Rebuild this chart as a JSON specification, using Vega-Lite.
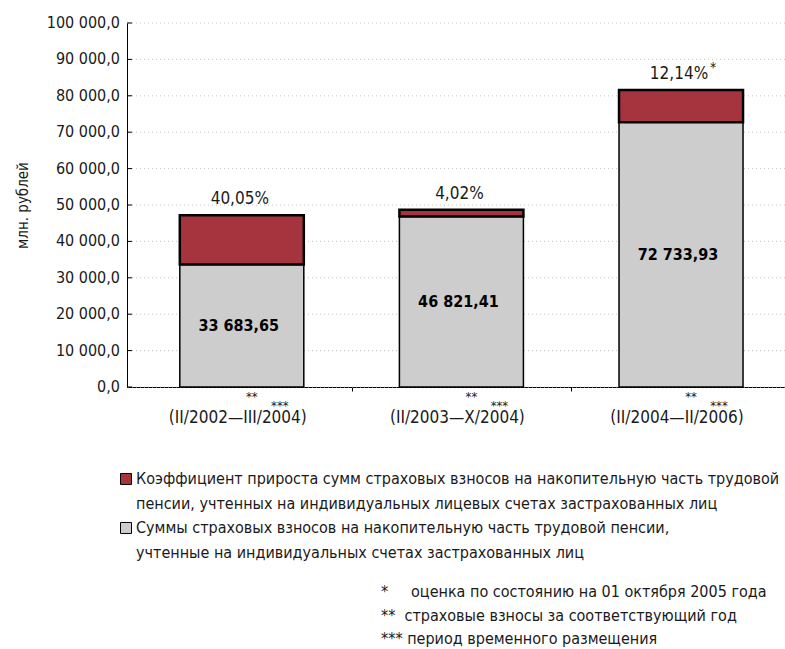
{
  "$schema": "https://vega.github.io/schema/vega-lite/v6.json",
  "width": 658,
  "height": 364,
  "autosize": "none",
  "padding": {"left": 127, "top": 23, "right": 0, "bottom": 262},
  "background": "white",
  "config": {
    "font": "DejaVu Sans Condensed, sans-serif",
    "locale": {"number": {"decimal": ",", "thousands": " ", "grouping": [3], "currency": ["", ""]}},
    "view": {"stroke": null},
    "style": {"guide-label": {"lineHeight": 25}}
  },
  "datasets": {
    "periods": [
      {"period": "(II/2002—III/2004)", "pos": 0.5, "base": 33683.65, "total": 47173.95, "pct": "40,05%", "note": ""},
      {"period": "(II/2003—X/2004)", "pos": 1.5, "base": 46821.41, "total": 48703.63, "pct": "4,02%", "note": ""},
      {"period": "(II/2004—II/2006)", "pos": 2.5, "base": 72733.93, "total": 81563.83, "pct": "12,14%", "note": "*"}
    ],
    "yticks": [
      {"v": 0}, {"v": 10000}, {"v": 20000}, {"v": 30000}, {"v": 40000}, {"v": 50000},
      {"v": 60000}, {"v": 70000}, {"v": 80000}, {"v": 90000}, {"v": 100000}
    ]
  },
  "data": {"name": "periods"},
  "title": {
    "text": [
      "*\u00a0\u00a0\u00a0\u00a0\u00a0оценка по состоянию на 01 октября 2005 года",
      "**\u00a0\u00a0страховые взносы за соответствующий год",
      "***\u00a0период временного размещения"
    ],
    "orient": "bottom",
    "anchor": "start",
    "frame": "group",
    "offset": 23,
    "dx": 254,
    "fontSize": 16,
    "fontWeight": "normal",
    "lineHeight": 23.5,
    "align": "left",
    "color": "#1a1a1a"
  },
  "resolve": {"scale": {"y": "independent"}},
  "layer": [
    {
      "layer": [
        {
          "data": {"name": "yticks"},
          "mark": {"type": "rule", "color": "#c4c4c4", "strokeDash": [1, 3], "strokeWidth": 1},
          "encoding": {
            "y": {
              "field": "v", "type": "quantitative",
              "scale": {"domain": [0, 100000], "nice": false},
              "axis": {
                "ticks": false, "labels": false, "grid": false, "domainColor": "#000",
                "title": "млн. рублей", "titleFontSize": 15, "titleFontWeight": "normal",
                "titleColor": "#1a1a1a", "titleX": -105, "titleY": 182,
                "titleAlign": "center", "titleBaseline": "middle", "titleAngle": -90
              }
            }
          }
        },
        {
          "data": {"name": "yticks"},
          "mark": {"type": "rule", "color": "#000", "strokeWidth": 1},
          "encoding": {
            "x": {"datum": 0},
            "x2": {"datum": -0.0224},
            "y": {"field": "v", "type": "quantitative"}
          }
        },
        {
          "data": {"name": "yticks"},
          "mark": {"type": "text", "fontSize": 16, "color": "#1a1a1a", "align": "right", "baseline": "middle", "dx": -12},
          "encoding": {
            "x": {"datum": 0},
            "y": {"field": "v", "type": "quantitative"},
            "text": {"field": "v", "type": "quantitative", "format": ",.1f"}
          }
        },
        {
          "mark": {"type": "bar", "width": 124, "stroke": "#000", "strokeWidth": 1.5},
          "encoding": {
            "x": {
              "field": "pos", "type": "quantitative",
              "scale": {"domain": [0, 2.9507], "nice": false, "zero": false},
              "axis": {"values": [1, 2], "labels": false, "tickSize": 4, "tickColor": "#000", "domainColor": "#000", "grid": false, "title": null}
            },
            "y": {"field": "base", "type": "quantitative", "stack": null},
            "color": {
              "datum": "Суммы страховых взносов на накопительную часть трудовой пенсии,\nучтенные на индивидуальных счетах застрахованных лиц",
              "scale": {
                "domain": [
                  "Коэффициент прироста сумм страховых взносов на накопительную часть трудовой\nпенсии, учтенных на индивидуальных лицевых счетах застрахованных лиц",
                  "Суммы страховых взносов на накопительную часть трудовой пенсии,\nучтенные на индивидуальных счетах застрахованных лиц"
                ],
                "range": ["#A6343E", "#CDCDCD"]
              },
              "legend": {
                "orient": "none", "legendX": -9, "legendY": 440, "title": null,
                "symbolType": "M-1,0.45H1V2.45H-1Z", "symbolSize": 121, "symbolStrokeColor": "#000", "symbolStrokeWidth": 1,
                "labelFontSize": 16, "labelColor": "#1a1a1a", "labelLimit": 700, "labelOffset": 2,
                "labelExpr": "split(datum.label, '\\n')", "labelBaseline": "top",
                "rowPadding": 0, "padding": 0, "direction": "vertical"
              }
            }
          }
        },
        {
          "mark": {"type": "bar", "width": 124, "stroke": "#000", "strokeWidth": 2.5},
          "encoding": {
            "x": {"field": "pos", "type": "quantitative"},
            "y": {"field": "base", "type": "quantitative", "stack": null},
            "y2": {"field": "total"},
            "color": {"datum": "Коэффициент прироста сумм страховых взносов на накопительную часть трудовой\nпенсии, учтенных на индивидуальных лицевых счетах застрахованных лиц"}
          }
        },
        {
          "mark": {"type": "text", "fontSize": 17, "color": "#1a1a1a", "baseline": "middle", "dy": -16, "dx": -2},
          "encoding": {
            "x": {"field": "pos", "type": "quantitative"},
            "y": {"field": "total", "type": "quantitative"},
            "text": {"field": "pct"}
          }
        },
        {
          "mark": {"type": "text", "fontSize": 14, "color": "#1a1a1a", "baseline": "middle", "dy": -22, "dx": 32},
          "encoding": {
            "x": {"field": "pos", "type": "quantitative"},
            "y": {"field": "total", "type": "quantitative"},
            "text": {"field": "note"}
          }
        },
        {
          "mark": {"type": "text", "fontSize": 17, "color": "#1a1a1a", "baseline": "middle", "dy": 31, "dx": -4},
          "encoding": {
            "x": {"field": "pos", "type": "quantitative"},
            "y": {"datum": 0},
            "text": {"field": "period"}
          }
        },
        {
          "mark": {"type": "text", "fontSize": 13, "color": "#1a1a1a", "baseline": "middle", "dy": 10, "dx": 10, "text": "**"},
          "encoding": {
            "x": {"field": "pos", "type": "quantitative"},
            "y": {"datum": 0}
          }
        },
        {
          "mark": {"type": "text", "fontSize": 13, "color": "#1a1a1a", "baseline": "middle", "dy": 19, "dx": 38, "text": "***"},
          "encoding": {
            "x": {"field": "pos", "type": "quantitative"},
            "y": {"datum": 0}
          }
        }
      ]
    },
    {
      "mark": {"type": "text", "fontSize": 16, "fontWeight": "bold", "color": "#000", "baseline": "middle", "dx": -3},
      "encoding": {
        "x": {"field": "pos", "type": "quantitative"},
        "y": {"field": "base", "type": "quantitative", "scale": {"domain": [0, 200000], "nice": false}, "axis": null},
        "text": {"field": "base", "type": "quantitative", "format": ",.2f"}
      }
    }
  ]
}
